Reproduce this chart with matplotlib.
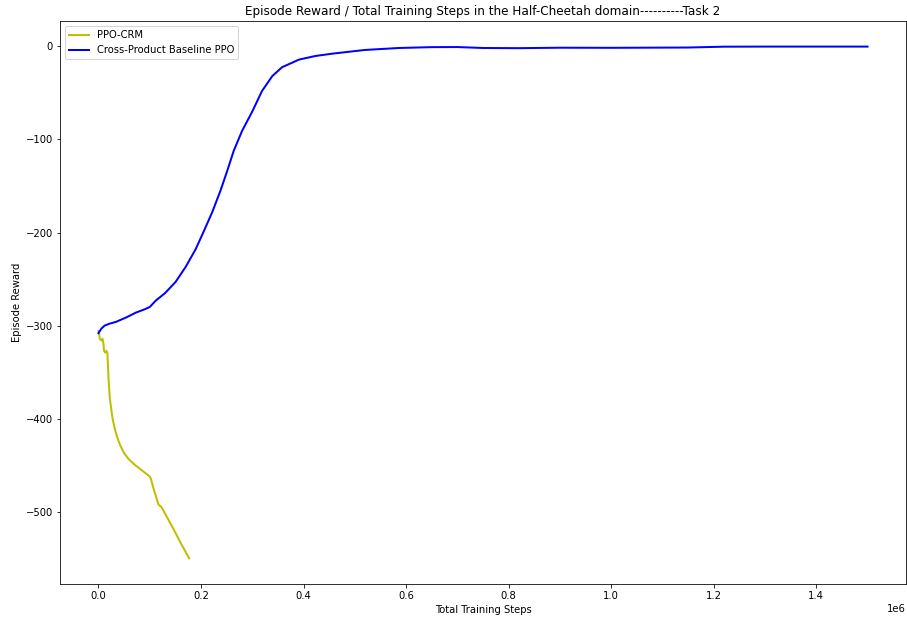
import matplotlib
matplotlib.use("Agg")
import matplotlib.pyplot as plt
import numpy as np

crm_steps = [0.0, 0.0014, 0.0025, 0.0058, 0.0078, 0.0097, 0.011, 0.013, 0.0156, 0.0175,
             0.0195, 0.022, 0.027, 0.031, 0.036, 0.042, 0.05, 0.06, 0.072, 0.086,
             0.1, 0.102, 0.108, 0.117, 0.123, 0.144, 0.160, 0.177]
crm_reward = [-306, -308, -314, -316, -314, -319, -327, -329, -327, -330,
              -355, -377, -398, -409, -419, -428, -437, -444, -450, -456,
              -462, -464, -476, -492, -495, -516, -533, -550]

base_steps = [0.0, 0.006, 0.012, 0.021, 0.034, 0.055, 0.073, 0.09, 0.1, 0.112, 0.13,
              0.1505, 0.17, 0.1895, 0.206, 0.222, 0.238, 0.251, 0.264, 0.28, 0.3,
              0.319, 0.339, 0.358, 0.391, 0.423, 0.456, 0.52, 0.586, 0.65, 0.7,
              0.75, 0.82, 0.9, 1.0, 1.1, 1.15, 1.22, 1.3, 1.4, 1.5]
base_reward = [-308, -303, -300, -298, -296, -291, -286, -282.5, -280, -273, -265,
               -253, -237, -218, -198, -178, -155, -134, -112, -91, -70,
               -48, -32, -22.5, -14.3, -10.4, -7.9, -3.9, -1.8, -0.9, -0.8,
               -1.8, -2.0, -1.5, -1.6, -1.4, -1.3, -0.4, -0.3, -0.3, -0.3]

W, H = 907, 619
fig = plt.figure(figsize=(W/72, H/72), dpi=72)
ax = fig.add_axes([60/W, 1-584/H, (906-60)/W, (584-21)/H])

ax.plot(np.array(crm_steps)*1e6, crm_reward, color='y', lw=2, label='PPO-CRM')
ax.plot(np.array(base_steps)*1e6, base_reward, color='b', lw=2, label='Cross-Product Baseline PPO')

ax.set_title('Episode Reward / Total Training Steps in the Half-Cheetah domain----------Task 2', fontsize=12)
ax.set_xlabel('Total Training Steps', fontsize=10)
ax.set_ylabel('Episode Reward', fontsize=10)
ax.legend(loc='upper left', fontsize=10)
ax.tick_params(labelsize=10)

fig.savefig('out.png', dpi=72)
